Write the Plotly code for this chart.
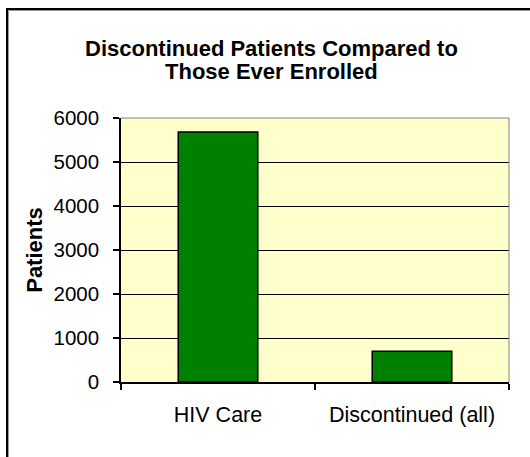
import plotly.graph_objects as go

categories = ["HIV Care", "Discontinued (all)"]
patients = [5680, 700]
y_ticks = [0, 1000, 2000, 3000, 4000, 5000, 6000]

W, H = 530, 457
L, R, T, B = 121, 21, 118, 75
pw, ph = W - L - R, H - T - B

def px_x(x):
    return (x - L) / pw

def px_y(y):
    return (H - B - y) / ph

FONT = "Arial, Liberation Sans, sans-serif"

fig = go.Figure()
fig.add_trace(go.Bar(
    x=categories, y=patients,
    marker=dict(color="#008000", line=dict(color="black", width=1.5)),
    hoverinfo="x+y",
))

shapes = [
    # plot-area border (top & right grey)
    dict(type="line", xref="paper", yref="paper", x0=0, x1=1, y0=1, y1=1,
         line=dict(color="#808080", width=1)),
    dict(type="line", xref="paper", yref="paper", x0=1, x1=1, y0=0, y1=1,
         line=dict(color="#808080", width=1)),
    # outer chart border (black with grey shade)
    dict(type="line", xref="paper", yref="paper", x0=px_x(6), x1=px_x(560),
         y0=px_y(9), y1=px_y(9), line=dict(color="black", width=2)),
    dict(type="line", xref="paper", yref="paper", x0=px_x(7), x1=px_x(7),
         y0=px_y(8), y1=px_y(500), line=dict(color="black", width=2)),
    dict(type="line", xref="paper", yref="paper", x0=px_x(8.5), x1=px_x(560),
         y0=px_y(10.5), y1=px_y(10.5), line=dict(color="#999999", width=1)),
    dict(type="line", xref="paper", yref="paper", x0=px_x(8.5), x1=px_x(8.5),
         y0=px_y(10.5), y1=px_y(500), line=dict(color="#999999", width=1)),
]

annotations = [
    dict(text="<b>Discontinued Patients Compared to</b>", xref="paper", yref="paper",
         x=px_x(271), y=px_y(49), xanchor="center", yanchor="middle", showarrow=False,
         font=dict(family=FONT, size=22, color="black")),
    dict(text="<b>Those Ever Enrolled</b>", xref="paper", yref="paper",
         x=px_x(271), y=px_y(72), xanchor="center", yanchor="middle", showarrow=False,
         font=dict(family=FONT, size=22, color="black")),
]

fig.update_layout(
    width=W, height=H,
    margin=dict(l=L, r=R, t=T, b=B, pad=0),
    paper_bgcolor="white",
    plot_bgcolor="#FFFFCC",
    bargap=0.59,
    showlegend=False,
    shapes=shapes,
    annotations=annotations,
    font=dict(family=FONT, size=20, color="black"),
)

fig.update_yaxes(
    range=[0, 6000], tickvals=y_ticks, ticktext=[str(v) for v in y_ticks],
    showgrid=True, gridcolor="black", gridwidth=1,
    showline=True, linecolor="black", linewidth=1.5,
    ticks="outside", ticklen=6, tickcolor="black", tickwidth=1.5,
    ticklabelstandoff=10,
    tickfont=dict(family=FONT, size=20.5, color="black"),
    zeroline=False,
    title=dict(text="<b>Patients</b>", font=dict(family=FONT, size=22, color="black"),
               standoff=5),
    fixedrange=True,
)
fig.update_xaxes(
    type="category",
    showline=True, linecolor="black", linewidth=1.5,
    ticks="outside", ticklen=6, tickcolor="black", tickwidth=1.5,
    tickson="boundaries",
    ticklabelstandoff=12,
    tickfont=dict(family=FONT, size=21.5, color="black"),
    showgrid=False,
    fixedrange=True,
)

fig.write_html("out.html", config={"displayModeBar": False},
               post_script="document.body.style.margin='0';")
